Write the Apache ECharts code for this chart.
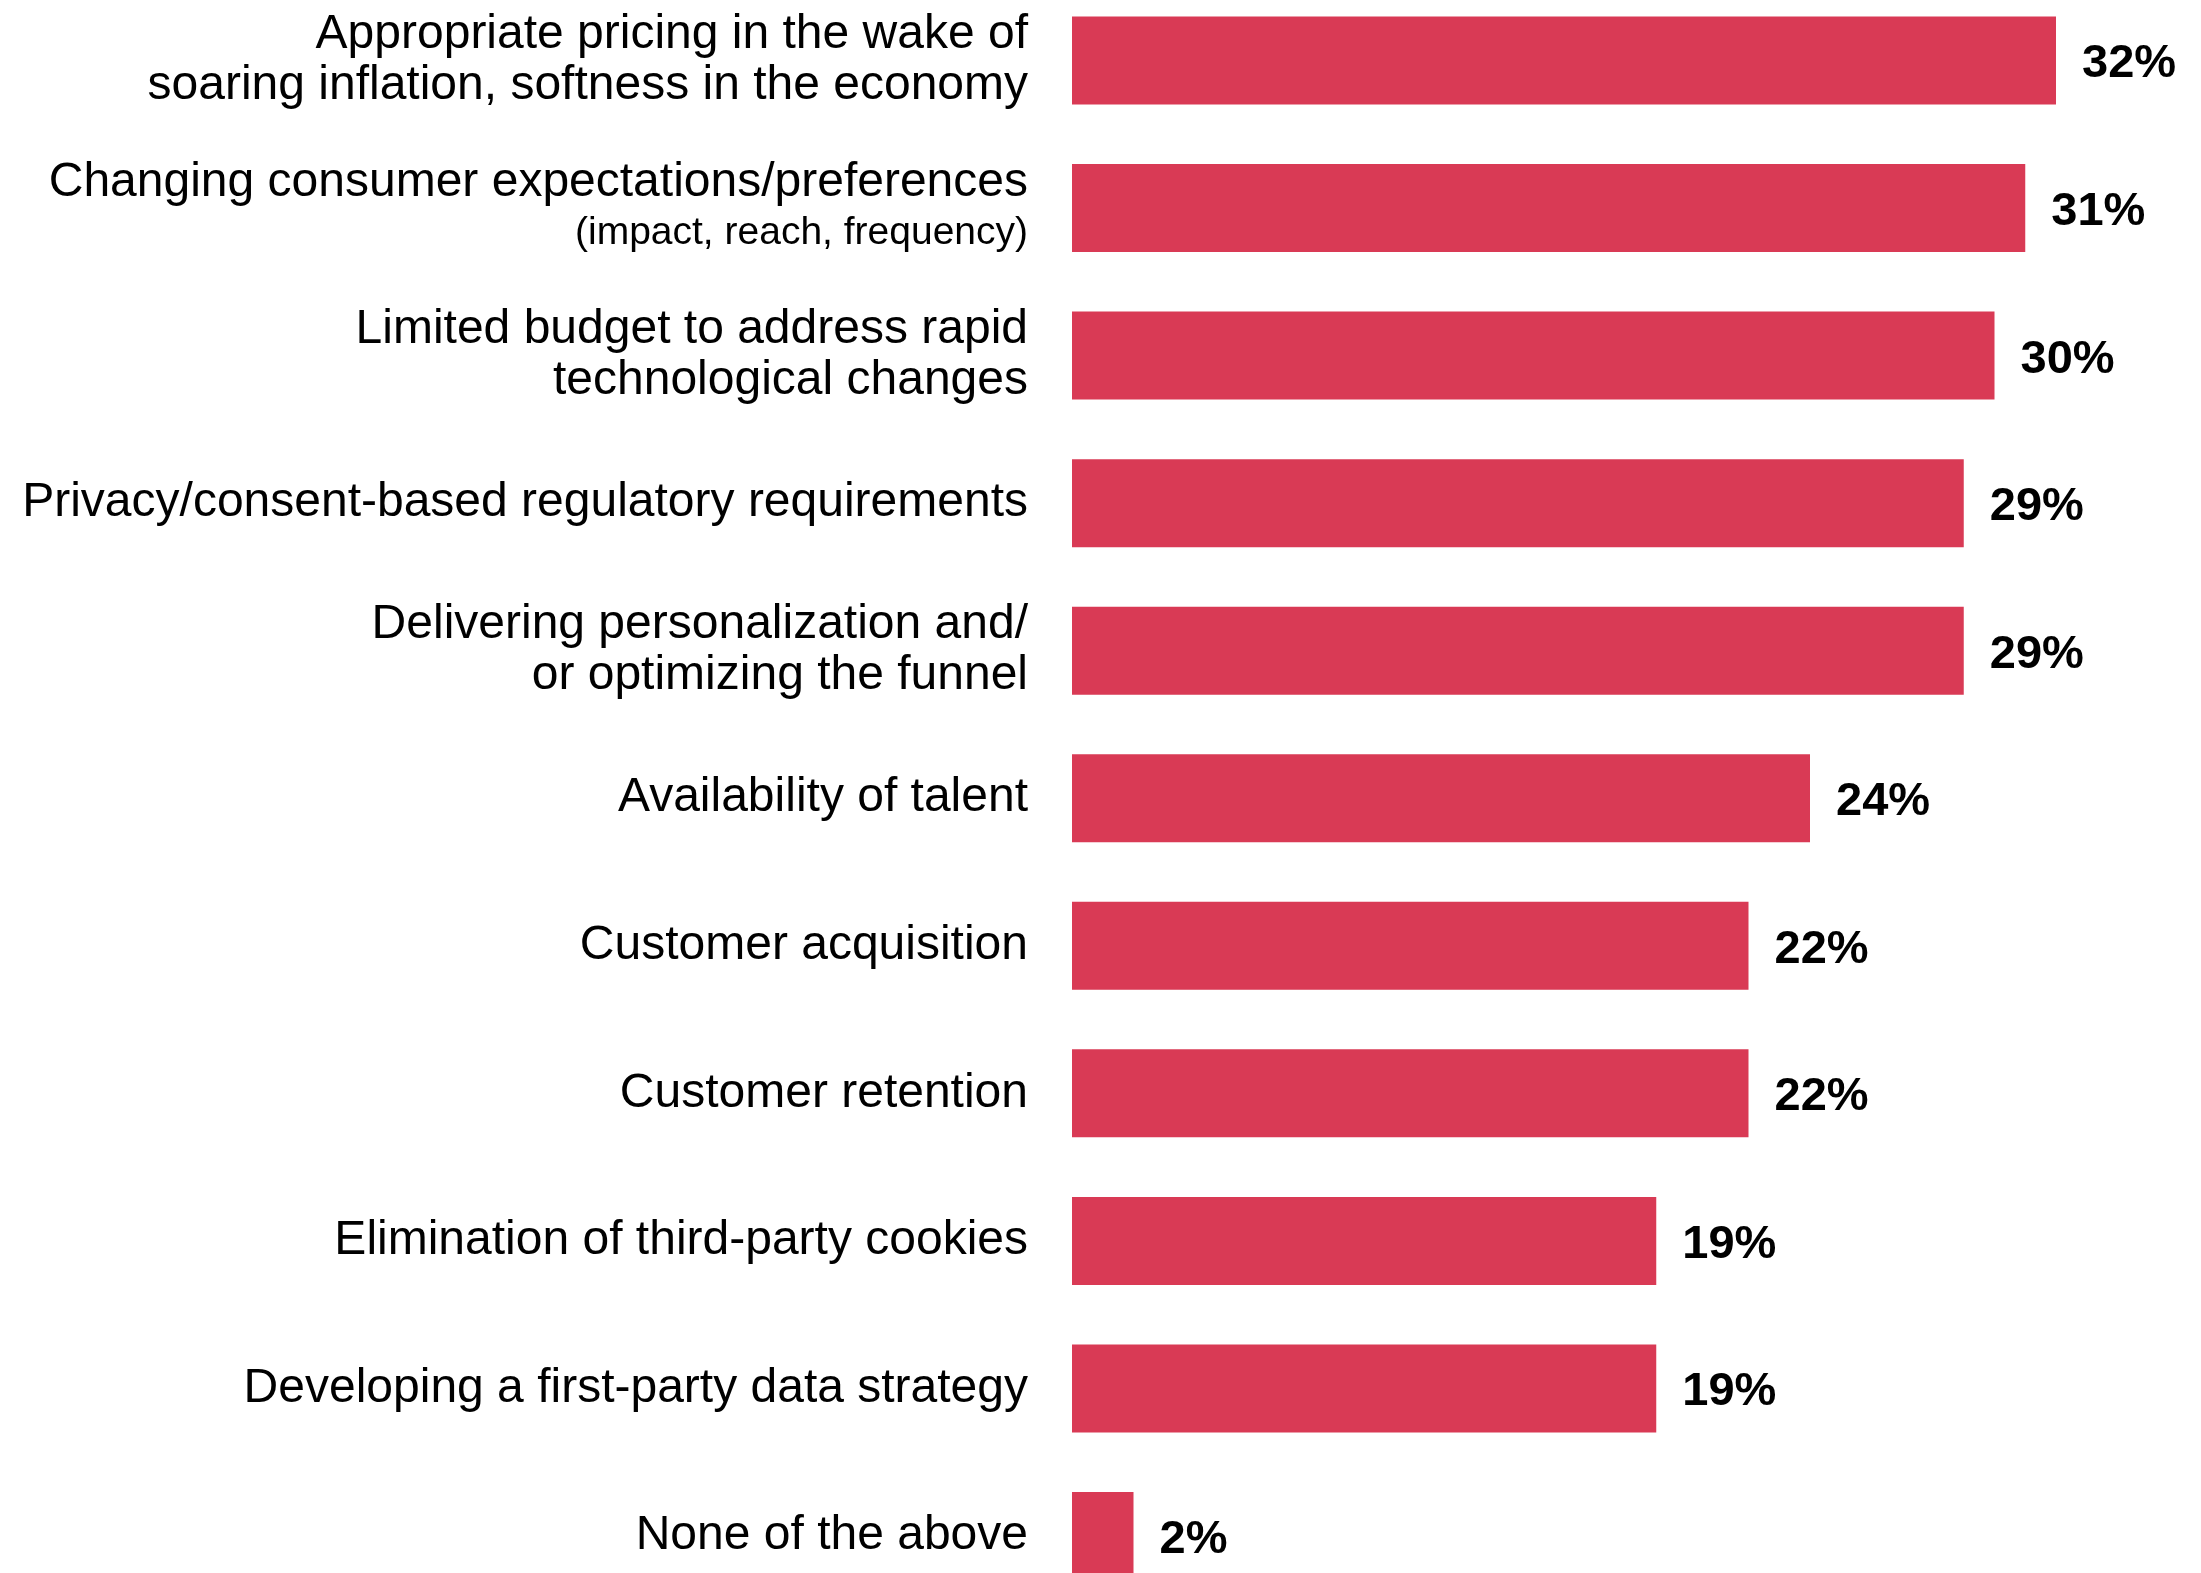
<!DOCTYPE html>
<html>
<head>
<meta charset="utf-8">
<script src="https://cdn.jsdelivr.net/npm/echarts@6/dist/echarts.min.js"></script>
<style>
html,body{margin:0;padding:0;background:#fff;}
#chart{width:2201px;height:1573px;}
</style>
</head>
<body>
<div id="chart"></div>
<script>
const categories = [
  "Appropriate pricing in the wake of\nsoaring inflation, softness in the economy",
  "{a|Changing consumer expectations/preferences}\n{b|(impact, reach, frequency)}",
  "Limited budget to address rapid\ntechnological changes",
  "Privacy/consent-based regulatory requirements",
  "Delivering personalization and/\nor optimizing the funnel",
  "Availability of talent",
  "Customer acquisition",
  "Customer retention",
  "Elimination of third-party cookies",
  "Developing a first-party data strategy",
  "None of the above"
];
const values = [32, 31, 30, 29, 29, 24, 22, 22, 19, 19, 2];

const FONT = "'Liberation Sans', Arial, Helvetica, sans-serif";
const chart = echarts.init(document.getElementById('chart'));
chart.setOption({
  animation: false,
  backgroundColor: '#ffffff',
  grid: { left: 1072, right: 52.75, top: -13.3, bottom: -36.8, containLabel: false, outerBoundsMode: 'none' },
  xAxis: {
    type: 'value', min: 0, max: 35,
    axisLine: { show: false }, axisTick: { show: false },
    axisLabel: { show: false }, splitLine: { show: false }
  },
  yAxis: {
    type: 'category', inverse: true, data: categories,
    axisLine: { show: false }, axisTick: { show: false },
    axisLabel: {
      interval: 0, margin: 44, color: '#000', fontFamily: FONT,
      fontSize: 48, lineHeight: 51, align: 'right',
      rich: {
        a: { fontSize: 48, lineHeight: 51, color: '#000', fontFamily: FONT, align: 'right' },
        b: { fontSize: 39, lineHeight: 51, color: '#000', fontFamily: FONT, align: 'right' }
      }
    }
  },
  series: [{
    type: 'bar', data: values, barWidth: 88,
    itemStyle: { color: '#D93A55' },
    label: {
      show: true, position: 'right', distance: 26, offset: [0, 4],
      formatter: '{c}%', color: '#000', fontFamily: FONT,
      fontSize: 47, fontWeight: 'bold'
    }
  }]
});
</script>
</body>
</html>
